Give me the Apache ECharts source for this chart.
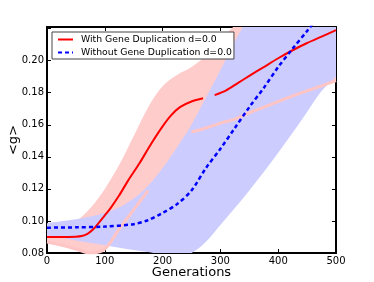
<!DOCTYPE html>
<html><head><meta charset="utf-8">
<script src="https://cdn.jsdelivr.net/npm/echarts@6/dist/echarts.min.js"></script>
<style>html,body{margin:0;padding:0;background:#fff}#c{width:374px;height:282px}</style>
</head><body><div id="c"></div>
<script>
// ---- data ----
const xTicks = [0, 100, 200, 300, 400, 500];
const yTicks = [0.08, 0.10, 0.12, 0.14, 0.16, 0.18, 0.20];

const bandGens = [0, 25, 50, 75, 100, 125, 150, 175, 200, 225, 250, 275, 300, 325, 350, 375, 400, 425, 450, 475, 500];
const redUpper = [0.093, 0.0955, 0.0995, 0.108, 0.12, 0.135, 0.153, 0.171, 0.184, 0.191, 0.196, 0.203, 0.213, 0.222, 0.229, 0.234, 0.238, 0.242, 0.246, 0.250, 0.254];
const redLower = [0.0869, 0.085, 0.0825, 0.080, 0.0825, 0.095, 0.107, 0.119, 0.131, 0.143, 0.1555, 0.158, 0.161, 0.1635, 0.1675, 0.171, 0.1745, 0.178, 0.1812, 0.1843, 0.1875];
const blueUpper = [0.0986, 0.0998, 0.101, 0.1027, 0.105, 0.1085, 0.114, 0.122, 0.133, 0.146, 0.160, 0.177, 0.194, 0.212, 0.228, 0.244, 0.260, 0.276, 0.292, 0.308, 0.324];
const blueLower = [0.091, 0.0895, 0.0878, 0.0862, 0.0848, 0.0832, 0.0818, 0.0806, 0.079, 0.078, 0.080, 0.087, 0.0975, 0.108, 0.119, 0.1305, 0.1425, 0.155, 0.168, 0.181, 0.190];

const redGens = [0, 25, 50, 60, 70, 80, 90, 100, 110, 125, 140, 160, 180, 200, 215, 230, 250, 270, 280, 290, 310, 330, 350, 375, 400, 425, 450, 475, 500];
const redMean = [0.090, 0.090, 0.0902, 0.0906, 0.092, 0.0948, 0.099, 0.1035, 0.108, 0.116, 0.125, 0.136, 0.148, 0.159, 0.166, 0.171, 0.1745, 0.1765, null, 0.1785, 0.1815, 0.186, 0.1905, 0.196, 0.2015, 0.2065, 0.211, 0.215, 0.219];

const blueGens = [0, 50, 100, 150, 175, 200, 225, 250, 275, 300, 325, 350, 375, 400, 425, 450, 475];
const blueMean = [0.0958, 0.096, 0.0965, 0.098, 0.1005, 0.105, 0.1105, 0.119, 0.133, 0.145, 0.158, 0.171, 0.183, 0.196, 0.2075, 0.2185, 0.230];

const nameWith = 'With Gene Duplication d=0.0';
const nameWithout = 'Without Gene Duplication d=0.0';

// ---- build ----
const zip = (xs, ys) => xs.map((x, i) => [x, ys[i]]);
const stripeVals = redLower.map((v, i) => (bandGens[i] === 200 || bandGens[i] === 225) ? null : v);

const FONT = 'DejaVu Sans';

// Catmull-Rom -> cubic bezier path through pixel points
function curvePath(pts, moveFirst) {
  let d = (moveFirst ? 'M' : 'L') + pts[0][0] + ' ' + pts[0][1];
  for (let i = 0; i < pts.length - 1; i++) {
    const p0 = pts[i - 1] || pts[i], p1 = pts[i], p2 = pts[i + 1], p3 = pts[i + 2] || pts[i + 1];
    const c1 = [p1[0] + (p2[0] - p0[0]) / 6, p1[1] + (p2[1] - p0[1]) / 6];
    const c2 = [p2[0] - (p3[0] - p1[0]) / 6, p2[1] - (p3[1] - p1[1]) / 6];
    d += ' C' + c1[0] + ' ' + c1[1] + ' ' + c2[0] + ' ' + c2[1] + ' ' + p2[0] + ' ' + p2[1];
  }
  return d;
}
function bandSeries(lower, upper, color, z) {
  return {
    type: 'custom', coordinateSystem: 'cartesian2d', xAxisIndex: 0, yAxisIndex: 0, silent: true, z: z,
    data: bandGens.map((g, i) => [g, lower[i], upper[i]]),
    encode: { x: 0, y: [1, 2] },
    renderItem: function (params, api) {
      if (params.dataIndex !== 0) return null;
      const up = bandGens.map((g, i) => api.coord([g, upper[i]]));
      const lo = bandGens.map((g, i) => api.coord([g, lower[i]])).reverse();
      const cs = params.coordSys;
      return {
        type: 'group',
        clipPath: { type: 'rect', shape: { x: cs.x, y: cs.y, width: cs.width, height: cs.height } },
        children: [{
          type: 'path',
          shape: { pathData: curvePath(up, true) + ' ' + curvePath(lo, false) + ' Z' },
          style: { fill: color, stroke: null }
        }]
      };
    }
  };
}

const chart = echarts.init(document.getElementById('c'));
const axisCommon = {
  type: 'value',
  axisLine: { show: true, onZero: false, lineStyle: { color: '#000', width: 2 } },
  axisTick: { show: true, inside: true, length: 4, lineStyle: { color: '#000', width: 1 } },
  splitLine: { show: false }
};
chart.setOption({
  animation: false,
  textStyle: { fontFamily: FONT },
  grid: { left: 47, right: 38, top: 27, bottom: 29, outerBoundsMode: 'none', containLabel: false },
  legend: {
    data: [nameWith, nameWithout],
    orient: 'vertical', left: 52, top: 32,
    backgroundColor: '#fff', borderColor: '#444', borderWidth: 1, borderRadius: 0,
    padding: [3, 2, 2, 5], itemGap: 4, itemWidth: 15, itemHeight: 9,
    itemStyle: { opacity: 0 },
    textStyle: { fontFamily: FONT, fontSize: 9.3, color: '#000', padding: [0, 0, 0, 3] }
  },
  xAxis: [
    Object.assign({}, axisCommon, { min: 0, max: 500, interval: 100, position: 'bottom',
      name: 'Generations', nameLocation: 'middle', nameGap: 13, nameMoveOverlap: false,
      nameTextStyle: { fontFamily: FONT, fontSize: 13, color: '#000', verticalAlign: 'top' },
      axisLabel: { fontFamily: FONT, fontSize: 10, color: '#000', margin: 3 } }),
    Object.assign({}, axisCommon, { min: 0, max: 500, interval: 100, position: 'top',
      axisLabel: { show: false } })
  ],
  yAxis: [
    Object.assign({}, axisCommon, { min: 0.08, max: 0.221, interval: 0.02, position: 'left',
      name: '<g>', nameLocation: 'middle', nameGap: 27, nameMoveOverlap: false,
      nameTextStyle: { fontFamily: FONT, fontSize: 13, color: '#000' },
      axisLabel: { fontFamily: FONT, fontSize: 10, color: '#000', margin: 3,
        formatter: v => (v > 0.205 ? '' : v.toFixed(2)) } }),
    Object.assign({}, axisCommon, { min: 0.08, max: 0.221, interval: 0.02, position: 'right',
      axisLabel: { show: false } })
  ],
  series: [
    bandSeries(redLower, redUpper, '#ffcccc', 1),
    bandSeries(blueLower, blueUpper, '#ccccff', 1),
    { type: 'line', data: zip(bandGens, stripeVals), symbol: 'none', smooth: 0.3, silent: true, z: 2,
      lineStyle: { color: '#ffc4c4', width: 3 }, xAxisIndex: 0, yAxisIndex: 0 },
    { name: nameWith, type: 'line', data: zip(redGens, redMean), symbol: 'none', smooth: 0.3, z: 3,
      lineStyle: { color: '#ff0000', width: 2 }, itemStyle: { color: '#ff0000' }, xAxisIndex: 0, yAxisIndex: 0 },
    { name: nameWithout, type: 'line', data: zip(blueGens, blueMean), symbol: 'none', smooth: 0.3, z: 3,
      lineStyle: { color: '#0000ff', width: 2.5, type: [4, 3] }, itemStyle: { color: '#0000ff' }, xAxisIndex: 0, yAxisIndex: 0 }
  ]
});
</script></body></html>
